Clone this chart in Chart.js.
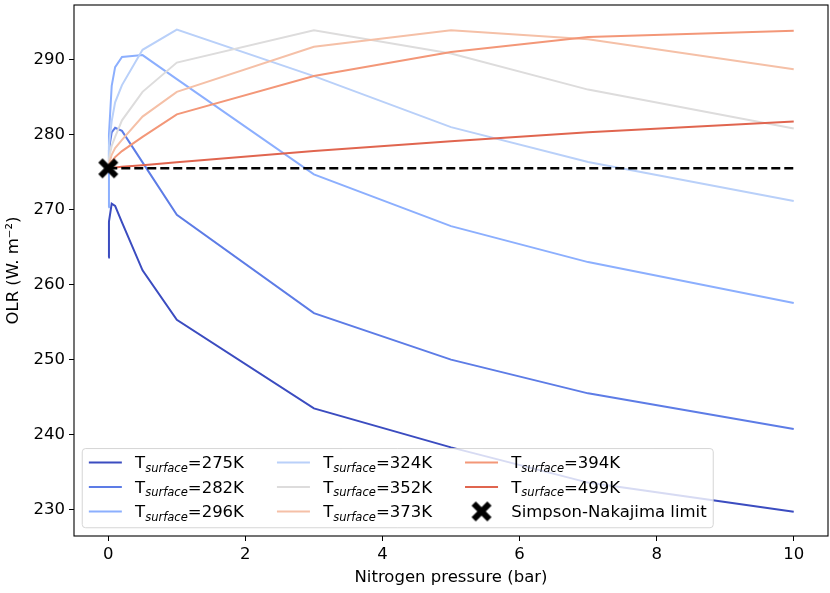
<!DOCTYPE html>
<html>
<head>
<meta charset="utf-8">
<script src="https://cdn.jsdelivr.net/npm/chart.js@4.4.1/dist/chart.umd.min.js"></script>
<style>
  html, body { margin: 0; padding: 0; background: #fff; }
  #wrap { width: 830px; height: 593px; }
</style>
</head>
<body>
<div id="wrap"><canvas id="olrChart" width="830" height="593"></canvas></div>
<script>
// nitrogen partial pressure (bar) and OLR (W/m2) per surface temperature
const pressures = [0, 0.01, 0.05, 0.1, 0.2, 0.5, 1, 3, 5, 7, 10];
const surfaceTemps = [275, 282, 296, 324, 352, 373, 394, 499];
const olr275 = [263.6, 268.4, 270.8, 270.5, 268.3, 261.9, 255.3, 243.5, 238.3, 233.6, 229.7];
const olr282 = [275.5, 278.0, 280.3, 280.9, 280.5, 276.3, 269.3, 256.2, 250.0, 245.5, 240.75];
const olr296 = [270.3, 280.0, 286.5, 289.0, 290.35, 290.6, 287.4, 274.7, 267.8, 263.0, 257.55];
const olr324 = [275.5, 278.5, 281.8, 284.3, 286.6, 291.3, 294.0, 287.8, 281.0, 276.35, 271.15];
const olr352 = [275.5, 276.8, 278.5, 279.7, 281.9, 285.7, 289.6, 293.9, 290.8, 286.0, 280.8];
const olr373 = [275.5, 276.0, 277.3, 278.2, 279.3, 282.4, 285.7, 291.7, 293.9, 292.7, 288.7];
const olr394 = [275.5, 275.8, 276.4, 277.0, 277.8, 279.7, 282.7, 287.8, 291.0, 293.0, 293.85];
const olr499 = [275.5, 275.5, 275.55, 275.6, 275.7, 275.9, 276.3, 277.8, 279.1, 280.3, 281.75];
const simpsonNakajima = 275.5;
const xTicks = [0, 2, 4, 6, 8, 10];
const yTicks = [230, 240, 250, 260, 270, 280, 290];

const series = [olr275, olr282, olr296, olr324, olr352, olr373, olr394, olr499];
const lineColors = ["#3b4cc0", "#5d7ce6", "#8caffe", "#b9d0f9", "#dddcdc", "#f5c0a7", "#f39778", "#e0654f"];
const fs = 16.5;
const family = "DejaVu Sans";

Chart.defaults.font.family = family;
Chart.defaults.font.size = fs;
Chart.defaults.color = "#000";

// filled "X" marker like matplotlib's
function makeXMarker() {
  const c = document.createElement("canvas");
  c.width = 22;
  c.height = 22;
  const g = c.getContext("2d");
  g.strokeStyle = "#000";
  g.lineWidth = 6;
  g.lineCap = "butt";
  g.beginPath();
  g.moveTo(3.1, 3.1); g.lineTo(18.9, 18.9);
  g.moveTo(18.9, 3.1); g.lineTo(3.1, 18.9);
  g.stroke();
  return c;
}
const xMarker = makeXMarker();

const datasets = series.map((vals, i) => ({
  label: "T_surface=" + surfaceTemps[i] + "K",
  data: pressures.map((p, j) => ({ x: p, y: vals[j] })),
  borderColor: lineColors[i],
  backgroundColor: lineColors[i],
  borderWidth: 2,
  pointRadius: 0,
  pointHoverRadius: 0,
  tension: 0,
  fill: false,
  order: 20 - i
}));
datasets.push({
  label: "limit",
  data: [
    { x: pressures[0], y: simpsonNakajima },
    { x: pressures[pressures.length - 1], y: simpsonNakajima }
  ],
  borderColor: "#000",
  borderDash: [9, 4],
  borderWidth: 2.5,
  pointRadius: 0,
  pointHoverRadius: 0,
  fill: false,
  order: 2
});
datasets.push({
  label: "Simpson-Nakajima limit",
  data: [{ x: pressures[0], y: simpsonNakajima }],
  showLine: false,
  pointStyle: xMarker,
  pointRadius: 1,
  pointHoverRadius: 0,
  pointBorderWidth: 0,
  borderColor: "#000",
  backgroundColor: "#000",
  clip: false,
  order: 1
});

function roundRect(ctx, x, y, w, h, r) {
  ctx.beginPath();
  ctx.moveTo(x + r, y);
  ctx.lineTo(x + w - r, y);
  ctx.arcTo(x + w, y, x + w, y + r, r);
  ctx.lineTo(x + w, y + h - r);
  ctx.arcTo(x + w, y + h, x + w - r, y + h, r);
  ctx.lineTo(x + r, y + h);
  ctx.arcTo(x, y + h, x, y + h - r, r);
  ctx.lineTo(x, y + r);
  ctx.arcTo(x, y, x + r, y, r);
  ctx.closePath();
}

const mainFont = fs + "px '" + family + "'";
const subFont = "italic " + (fs * 0.7) + "px '" + family + "'";

function labelWidth(ctx, item) {
  if (!item.temp) {
    ctx.font = mainFont;
    return ctx.measureText(item.text).width;
  }
  ctx.font = mainFont;
  let w = ctx.measureText("T").width + ctx.measureText("=" + item.temp + "K").width;
  ctx.font = subFont;
  return w + ctx.measureText("surface").width;
}

function drawLabel(ctx, item, x, base) {
  ctx.fillStyle = "#000";
  ctx.textBaseline = "alphabetic";
  ctx.textAlign = "left";
  ctx.font = mainFont;
  if (!item.temp) {
    ctx.fillText(item.text, x, base);
    return;
  }
  ctx.fillText("T", x, base);
  x += ctx.measureText("T").width;
  ctx.font = subFont;
  ctx.fillText("surface", x, base + fs * 0.2);
  x += ctx.measureText("surface").width;
  ctx.font = mainFont;
  ctx.fillText("=" + item.temp + "K", x, base);
}

const frameAndLegend = {
  id: "frameAndLegend",
  afterDatasetsDraw(chart) {
    const { ctx, chartArea: a } = chart;
    const items = surfaceTemps.map((t, i) => ({ temp: t, color: lineColors[i] }));
    items.push({ text: "Simpson-Nakajima limit", marker: true });

    const rows = 3;
    const handleLen = 2 * fs, textPad = 0.8 * fs, colGap = 2 * fs, pad = 0.4 * fs;
    const rowGap = 1.485 * fs;
    const boxH = 4.8 * fs;
    const boxX = a.left + 0.5 * fs;
    const boxBottom = a.bottom - 0.5 * fs;
    const boxY = boxBottom - boxH;

    const cols = [];
    for (let c = 0; c * rows < items.length; c++) {
      const colItems = items.slice(c * rows, c * rows + rows);
      cols.push({ items: colItems, w: Math.max(...colItems.map((it) => labelWidth(ctx, it))) });
    }
    let contentW = 0;
    cols.forEach((c, k) => { contentW += handleLen + textPad + c.w + (k ? colGap : 0); });
    const boxW = contentW + 2 * pad;

    ctx.save();
    roundRect(ctx, boxX, boxY, boxW, boxH, 0.2 * fs);
    ctx.fillStyle = "rgba(255,255,255,0.8)";
    ctx.fill();
    ctx.strokeStyle = "rgba(204,204,204,0.8)";
    ctx.lineWidth = 1;
    ctx.stroke();

    let cx = boxX + pad;
    cols.forEach((col) => {
      col.items.forEach((it, r) => {
        const hy = boxBottom - 0.99 * fs - (rows - 1 - r) * rowGap;
        if (it.marker) {
          ctx.drawImage(xMarker, cx + handleLen / 2 - xMarker.width / 2, hy - xMarker.height / 2);
        } else {
          ctx.strokeStyle = it.color;
          ctx.lineWidth = 2;
          ctx.beginPath();
          ctx.moveTo(cx, hy);
          ctx.lineTo(cx + handleLen, hy);
          ctx.stroke();
        }
        drawLabel(ctx, it, cx + handleLen + textPad, hy + 0.36 * fs);
      });
      cx += handleLen + textPad + col.w + colGap;
    });

    ctx.strokeStyle = "#000";
    ctx.lineWidth = 1.1;
    ctx.strokeRect(a.left, a.top, a.right - a.left, a.bottom - a.top);
    ctx.restore();
  }
};

new Chart(document.getElementById("olrChart").getContext("2d"), {
  type: "line",
  data: { datasets: datasets },
  options: {
    responsive: false,
    devicePixelRatio: 1,
    animation: false,
    events: [],
    layout: { padding: { top: 5, right: 2, left: 0, bottom: 0 } },
    plugins: {
      legend: { display: false },
      tooltip: { enabled: false }
    },
    scales: {
      x: {
        type: "linear",
        min: -0.5,
        max: 10.5,
        afterBuildTicks: (s) => { s.ticks = xTicks.map((v) => ({ value: v })); },
        afterFit: (s) => { s.height = 57; s.paddingLeft = 0; s.paddingRight = 0; },
        ticks: { autoSkip: false, maxRotation: 0, color: "#000", padding: 4 },
        grid: { drawOnChartArea: false, drawTicks: true, tickLength: 5, color: "#000", lineWidth: 1 },
        border: { display: false },
        title: {
          display: true,
          text: "Nitrogen pressure (bar)",
          color: "#000",
          padding: { top: 0, bottom: 5 }
        }
      },
      y: {
        type: "linear",
        min: 226.48,
        max: 297.28,
        afterBuildTicks: (s) => { s.ticks = yTicks.map((v) => ({ value: v })); },
        afterFit: (s) => { s.width = 74; s.paddingTop = 0; s.paddingBottom = 0; },
        ticks: { autoSkip: false, color: "#000", padding: 4 },
        grid: { drawOnChartArea: false, drawTicks: true, tickLength: 5, color: "#000", lineWidth: 1 },
        border: { display: false },
        title: {
          display: true,
          text: "OLR (W. m⁻²)",
          color: "#000",
          padding: { top: 4, bottom: 4 }
        }
      }
    }
  },
  plugins: [frameAndLegend]
});
</script>
</body>
</html>
